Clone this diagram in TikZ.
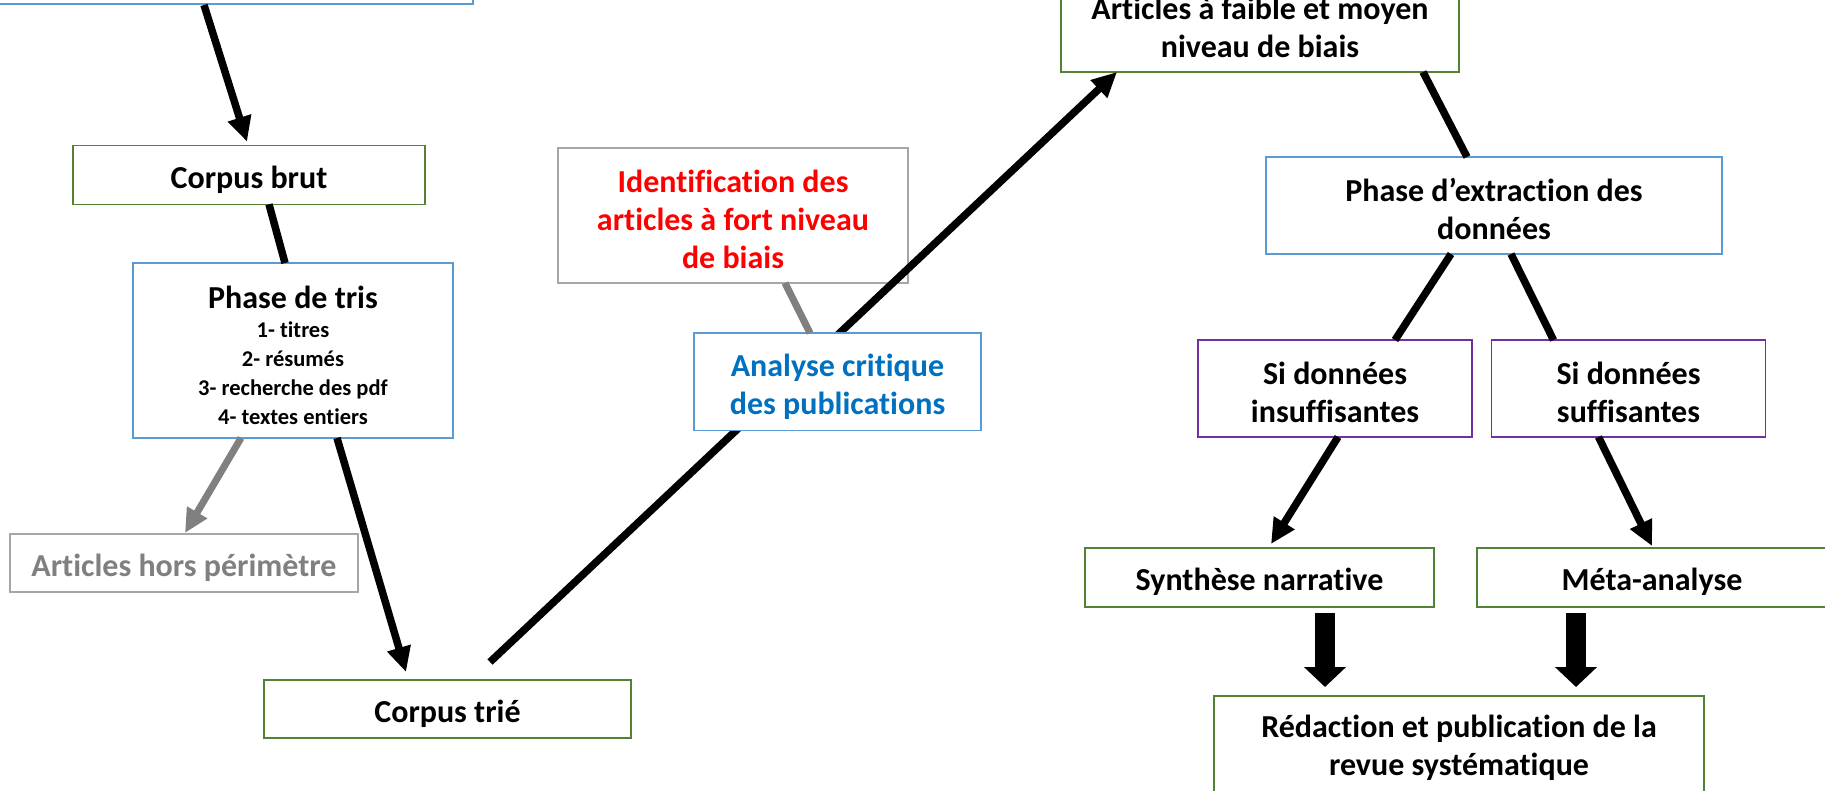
\documentclass[tikz,border=0pt]{standalone}
\usepackage{fontspec}
\setmainfont{Carlito}[Ligatures=NoCommon]
\usetikzlibrary{arrows.meta,calc}
\definecolor{bxgreen}{HTML}{548235}
\definecolor{bxblue}{HTML}{5B9BD5}
\definecolor{bxpurple}{HTML}{7030A0}
\definecolor{bxgray}{HTML}{A6A6A6}
\definecolor{lngray}{HTML}{808080}
\definecolor{txblue}{HTML}{0070C0}
\definecolor{txred}{HTML}{FF0000}
\newcommand{\onestrut}{\rule{0pt}{32pt}}
\newcommand{\multistrut}{\rule{0pt}{30pt}}
\tikzset{
  box/.style={draw, line width=1.5pt, fill=white, rectangle, inner sep=2pt, outer sep=0pt,
    align=center, font=\fontsize{32}{38}\selectfont\bfseries},
  gbox/.style={box, draw=bxgreen},
  bbox/.style={box, draw=bxblue},
  pbox/.style={box, draw=bxpurple},
  greybox/.style={box, draw=bxgray},
  conn/.style={line width=7.5pt, draw=black},
  connarrow/.style={conn, -{Triangle[length=25pt,width=23pt]}},
  gconn/.style={line width=7pt, draw=lngray},
  gconnarrow/.style={gconn, -{Triangle[length=24pt,width=22pt]}},
  blockarrow/.style={line width=20pt, draw=black, -{Triangle[length=20pt,width=41pt]}},
}
\begin{document}
\begin{tikzpicture}[x=1pt,y=-1pt]
\useasboundingbox (0,0) rectangle (1825,790);
\clip (0,0) rectangle (1825,790);

% left column
\node[bbox, minimum width=560pt, minimum height=120pt, anchor=south east] (src) at (473,4) {};
\node[gbox, minimum width=352pt, minimum height=58.6pt, anchor=north west] (cb) at (73,145.7) {\onestrut Corpus brut};
\node[bbox, minimum width=320pt, minimum height=175pt, anchor=north west,
      font=\fontsize{22.5}{29}\selectfont\bfseries] (pt) at (133,263)
  {{\fontsize{32}{38}\selectfont\onestrut Phase de tris}\\
   1- titres\\ 2- résumés\\ 3- recherche des pdf\\ 4- textes entiers};
\node[greybox, text=lngray, minimum width=348pt, minimum height=58pt, anchor=north west] (ahp) at (10,534) {\onestrut Articles hors périmètre};
\node[gbox, minimum width=367pt, minimum height=58pt, anchor=north west] (ct) at (264,680) {\onestrut Corpus trié};

% middle
\node[greybox, text=txred, minimum width=350pt, minimum height=135pt, anchor=north west] (id) at (558,148)
  {\multistrut Identification des\\ articles à fort niveau\\ de biais};

% long line from sorted corpus to low/medium-bias articles (over id, under ac)
\node[gbox, minimum width=398pt, minimum height=97pt, anchor=south west] (af) at (1061,72)
  {\multistrut Articles à faible et moyen\\ niveau de biais};
\draw[connarrow] ($(ct.north west)+(226,-18)$) -- ($(af.south west)+(56,0)$);

\node[bbox, text=txblue, minimum width=287pt, minimum height=97.5pt, anchor=north west] (ac) at (694,333)
  {\rule{0pt}{32pt}Analyse critique\\ des publications};
\draw[gconn] ($(id.south west)+(227,0)$) -- ($(ac.north west)+(116,0)$);

% right column
\node[bbox, minimum width=456pt, minimum height=97pt, anchor=north west] (pe) at (1266,157)
  {\multistrut Phase d’extraction des\\ données};
\node[pbox, minimum width=274pt, minimum height=97pt, anchor=north west] (si) at (1198,340)
  {\multistrut Si données\\ insuffisantes};
\node[pbox, minimum width=274pt, minimum height=97pt, anchor=north west] (ss) at (1491.5,340)
  {\multistrut Si données\\ suffisantes};
\node[gbox, minimum width=349pt, minimum height=59pt, anchor=north west] (sn) at (1085,548) {\onestrut Synthèse narrative};
\node[gbox, minimum width=350pt, minimum height=59pt, anchor=north west] (ma) at (1477,548) {\onestrut Méta-analyse};
\node[gbox, minimum width=490pt, minimum height=97pt, anchor=north west] (rp) at (1214,696)
  {\multistrut Rédaction et publication de la\\ revue systématique};

% connectors left
\draw[connarrow] ($(src.south east)+(-269,1)$) -- ($(cb.north west)+(174,-4)$);
\draw[conn] ($(cb.south west)+(196,0)$) -- ($(pt.north west)+(152,0)$);
\draw[gconnarrow] ($(pt.south west)+(108,0)$) -- ($(ahp.north west)+(175,-1)$);
\draw[connarrow] ($(pt.south west)+(204,0)$) -- ($(ct.north west)+(142,-8)$);

% connectors right
\draw[conn] ($(af.south west)+(362,0)$) -- ($(pe.north west)+(201,0)$);
\draw[conn] ($(pe.south west)+(185,0)$) -- ($(si.north west)+(197,0)$);
\draw[conn] ($(pe.south west)+(245,0)$) -- ($(ss.north west)+(62,0)$);
\draw[connarrow] ($(si.south west)+(140,0)$) -- ($(sn.north west)+(186,-4)$);
\draw[connarrow] ($(ss.south west)+(107,0)$) -- ($(ma.north west)+(175,-2)$);
\draw[blockarrow] ($(sn.south west)+(240,6)$) -- ($(rp.north west)+(111,-9)$);
\draw[blockarrow] ($(ma.south west)+(99,6)$) -- ($(rp.north west)+(362,-9)$);
\end{tikzpicture}
\end{document}
